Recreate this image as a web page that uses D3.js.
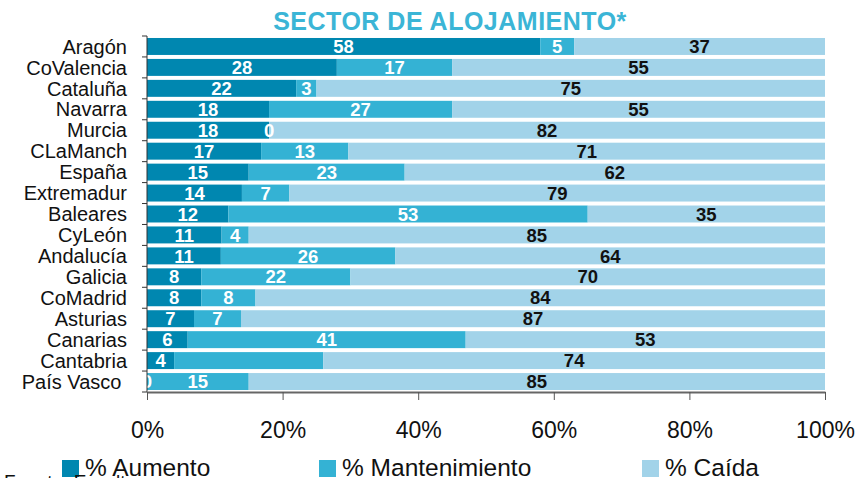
<!DOCTYPE html>
<html><head><meta charset="utf-8">
<script src="https://cdn.jsdelivr.net/npm/d3@7"></script>
<style>
html,body{margin:0;padding:0;background:#fff;}
svg{display:block;font-family:"Liberation Sans",Arial,Helvetica,sans-serif;}
</style></head>
<body>
<svg id="c" width="858" height="478"></svg>
<script>
const categories = ["Aragón","CoValencia","Cataluña","Navarra","Murcia","CLaManch","España","Extremadur","Baleares","CyLeón","Andalucía","Galicia","CoMadrid","Asturias","Canarias","Cantabria","País Vasco\u00a0"];
const aumento       = [58,28,22,18,18,17,15,14,12,11,11,8,8,7,6,4,0];
const mantenimiento = [5,17,3,27,0,13,23,7,53,4,26,22,8,7,41,22,15];
const caida         = [37,55,75,55,82,71,62,79,35,85,64,70,84,87,53,74,85];
const seriesNames = ["% Aumento","% Mantenimiento","% Caída"];
const xTickValues = [0,0.2,0.4,0.6,0.8,1];
const hiddenLabels = [["Cantabria",1]];
const titleText = "SECTOR DE ALOJAMIENTO*";
const sourceText = "Fuente: Exceltur";

(function(){
const colors = ["#0087b0","#34b2d4","#a2d3e9"];
const labelColors = ["#fff","#fff","#111"];

const svg = d3.select("#c");
const pL = 147, pR = 825, pT = 36, pB = 392;

const rows = categories.map((c,i)=>({cat:c, s0:aumento[i], s1:mantenimiento[i], s2:caida[i]}));
const stack = d3.stack().keys(["s0","s1","s2"]).offset(d3.stackOffsetExpand);
const layers = stack(rows);

const x = d3.scaleLinear().domain([0,1]).range([pL,pR]);
const y = d3.scaleBand().domain(categories).range([pT,pB]).paddingInner(0.19).paddingOuter(0.095);

// title
svg.append("text").attr("x",450).attr("y",30).attr("text-anchor","middle")
  .attr("fill","#3bb5d6").attr("font-weight","bold").attr("font-size",25)
  .attr("letter-spacing",0.5).text(titleText);

// bars
const g = svg.append("g");
layers.forEach((layer,k)=>{
  g.selectAll(null).data(layer).enter().append("rect")
    .attr("x",d=>x(d[0])).attr("width",d=>x(d[1])-x(d[0]))
    .attr("y",d=>y(d.data.cat)).attr("height",y.bandwidth())
    .attr("fill",colors[k]);
});

// clip for labels
svg.append("clipPath").attr("id","pc").append("rect")
  .attr("x",pL).attr("y",0).attr("width",pR-pL+40).attr("height",478);
const lg = svg.append("g").attr("clip-path","url(#pc)");
layers.forEach((layer,k)=>{
  lg.selectAll(null).data(layer.filter((d,i)=>!hiddenLabels.some(h=>categories[i].trim()===h[0] && h[1]===k)))
    .enter().append("text")
    .attr("x",d=>(x(d[0])+x(d[1]))/2)
    .attr("y",d=>y(d.data.cat)+y.bandwidth()/2)
    .attr("dy","0.36em").attr("text-anchor","middle")
    .attr("font-weight","bold").attr("font-size",18.5)
    .attr("fill",labelColors[k])
    .text(d=>d.data["s"+k]);
});

// y axis
const ya = svg.append("g");
ya.append("line").attr("x1",pL).attr("x2",pL).attr("y1",pT).attr("y2",pB).attr("stroke","#333").attr("stroke-width",1);
d3.range(categories.length+1).forEach(i=>{
  const yy = pT + i*y.step();
  ya.append("line").attr("x1",pL-5).attr("x2",pL).attr("y1",yy).attr("y2",yy).attr("stroke","#333");
});
ya.selectAll(null).data(categories).enter().append("text")
  .attr("x",127).attr("y",d=>y(d)+y.bandwidth()/2).attr("dy","0.36em")
  .attr("text-anchor","end").attr("font-size",20).attr("fill","#111")
  .style("white-space","pre").text(d=>d);

// x axis
const xa = svg.append("g").attr("transform",`translate(0,${pB})`)
  .call(d3.axisBottom(x).tickValues(xTickValues).tickFormat(d3.format(".0%")).tickSize(8).tickSizeOuter(0).tickPadding(22));
xa.select(".domain").attr("stroke","#666").attr("stroke-width",2);
xa.selectAll(".tick line").attr("stroke","#555");
xa.selectAll(".tick text").attr("font-size",23).attr("fill","#111").attr("font-family","Liberation Sans, Arial, sans-serif");

// legend
const legX = [62,319,642];
seriesNames.forEach((n,k)=>{
  svg.append("rect").attr("x",legX[k]).attr("y",460).attr("width",17).attr("height",17).attr("fill",colors[k]);
  svg.append("text").attr("x",legX[k]+23).attr("y",476).attr("font-size",24.5).attr("fill","#111").text(n);
});

// source
svg.append("text").attr("x",4).attr("y",488).attr("font-size",19).attr("fill","#111").text(sourceText);
})();
</script>
</body></html>
